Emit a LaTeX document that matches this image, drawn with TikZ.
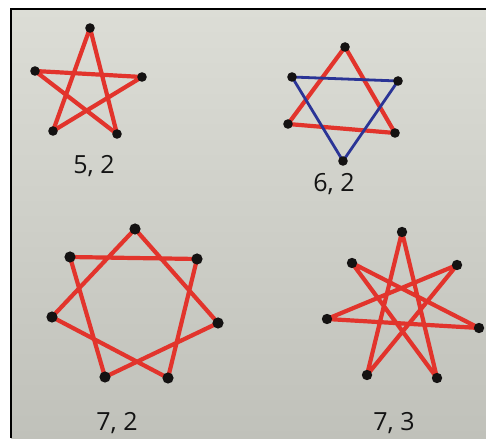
\documentclass[tikz,border=0pt]{standalone}
\usepackage{fontspec}
\setmainfont{Open Sans}
\definecolor{paperTop}{RGB}{220,221,214}
\definecolor{paperBot}{RGB}{192,193,186}
\definecolor{pen}{RGB}{226,52,44}
\definecolor{bluepen}{RGB}{42,52,150}
\definecolor{dotc}{RGB}{20,18,18}
\tikzset{
  redline/.style={draw=pen, line width=4.2pt, line cap=round, line join=round},
  blueline/.style={draw=bluepen, line width=2.8pt, line cap=round, line join=round},
  vdot/.style={fill=dotc},
  lab/.style={font=\fontsize{25}{27}\selectfont, text=black!92}
}
\begin{document}
\begin{tikzpicture}[x=1pt,y=1pt]
\useasboundingbox (0,0) rectangle (486,438);
\fill[white] (0,0) rectangle (486,438);
\shade[top color=paperTop, bottom color=paperBot] (11,0) rectangle (486,429);
\draw[black, line width=1.4pt] (11,0) -- (11,429) -- (486,429);
% ---------- 5,2 ----------
\coordinate (a0) at (90,410);
\coordinate (a1) at (142,361);
\coordinate (a2) at (117,304);
\coordinate (a3) at (53,307);
\coordinate (a4) at (35,367);
\draw[redline] (a0) -- (a2) -- (a4) -- (a1) -- (a3) -- cycle;
\foreach \p in {a0,a1,a2,a3,a4} \fill[vdot] (\p) circle (4.8);
\node[lab] (l52) at (94,272) {5, 2};
% ---------- 6,2 ----------
\coordinate (b0) at (345,391);
\coordinate (b1) at (398,357);
\coordinate (b2) at (395,305);
\coordinate (b3) at (343,277);
\coordinate (b4) at (288,314);
\coordinate (b5) at (292,361);
\draw[redline] (b0) -- (b2) -- (b4) -- cycle;
\draw[blueline] (b5) -- (b1) -- (b3) -- cycle;
\foreach \p in {b0,b1,b2,b3,b4,b5} \fill[vdot] (\p) circle (4.8);
\node[lab] (l62) at (334,254) {6, 2};
% ---------- 7,2 ----------
\coordinate (c0) at (135,209);
\coordinate (c1) at (197,179);
\coordinate (c2) at (218,115);
\coordinate (c3) at (168,60);
\coordinate (c4) at (105,61);
\coordinate (c5) at (52,121);
\coordinate (c6) at (70,181);
\draw[redline] (c0) -- (c2) -- (c4) -- (c6) -- (c1) -- (c3) -- (c5) -- cycle;
\foreach \p in {c0,c1,c2,c3,c4,c5,c6} \fill[vdot] (\p) circle (5.6);
\node[lab] (l72) at (117,15) {7, 2};
% ---------- 7,3 ----------
\coordinate (d0) at (402,206);
\coordinate (d1) at (457,173);
\coordinate (d2) at (479,110);
\coordinate (d3) at (437,60);
\coordinate (d4) at (367,63);
\coordinate (d5) at (327,119);
\coordinate (d6) at (352,175);
\draw[redline] (d0) -- (d3) -- (d6) -- (d2) -- (d5) -- (d1) -- (d4) -- cycle;
\foreach \p in {d0,d1,d2,d3,d4,d5,d6} \fill[vdot] (\p) circle (5.2);
\node[lab] (l73) at (394,15) {7, 3};
\end{tikzpicture}
\end{document}
